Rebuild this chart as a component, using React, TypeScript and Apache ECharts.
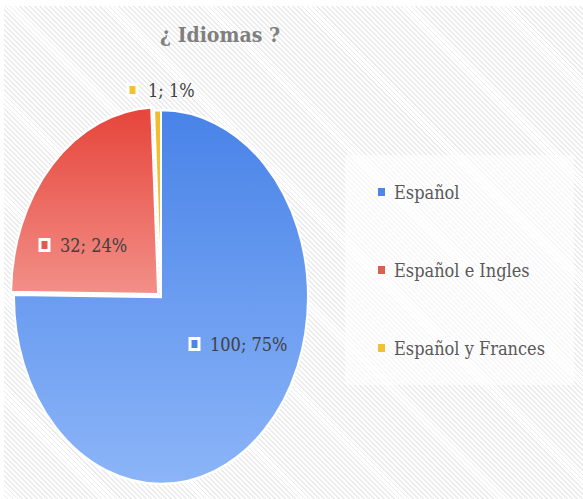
import React, { useEffect, useRef } from "react";
import * as echarts from "echarts";

const categories = ["Español", "Español e Ingles", "Español y Frances"];
const values = [100, 32, 1];
const titleText = "¿ Idiomas ?";

// styles (not data)
const FONT = "DejaVu Serif Condensed";
const gradients = [
  ["#4883e8", "#8cb5f8"],
  ["#e6443a", "#f29088"],
  ["#f1bc2b", "#f4c542"],
];
const legendColors = ["#4f86e6", "#e05b52", "#f2c037"];
const explode = [0, 4, 0];
const labelOffsets = [
  [28, 47],
  [-122, -52],
  [-34, -207],
];
const CX = 161;
const CY = 297;
const RX = 147;
const RY = 187;

export default function App() {
  const ref = useRef<HTMLDivElement>(null);
  useEffect(() => {
    document.body.style.margin = "0";
    const chart = echarts.init(ref.current!, null, { renderer: "svg" });
    const total = values.reduce((a, b) => a + b, 0);
    const starts: number[] = [];
    let acc = 0;
    values.forEach((v) => {
      starts.push(acc);
      acc += v;
    });
    const series = categories.map((name, i) => ({
      type: "custom",
      name,
      coordinateSystem: "none",
      itemStyle: { color: legendColors[i] },
      data: [values[i]],
      renderItem: (_params: any, api: any) => {
        const v = api.value(0) as number;
        const a0 = -Math.PI / 2 + (2 * Math.PI * starts[i]) / total;
        const a1 = a0 + (2 * Math.PI * v) / total;
        const mid = (a0 + a1) / 2;
        const dx = Math.cos(mid) * explode[i];
        const dy = Math.sin(mid) * explode[i];
        const pct = Math.round((v / total) * 100);
        const [ox, oy] = labelOffsets[i];
        return {
          type: "group",
          children: [
            {
              type: "sector",
              x: CX + dx,
              y: CY + dy,
              scaleY: RY / RX,
              shape: { cx: 0, cy: 0, r0: 0, r: RX, startAngle: a0, endAngle: a1, clockwise: true },
              style: {
                fill: new echarts.graphic.LinearGradient(0, 0, 0, 1, [
                  { offset: 0, color: gradients[i][0] },
                  { offset: 1, color: gradients[i][1] },
                ]),
                stroke: "#ffffff",
                lineWidth: 2,
                strokeNoScale: true,
              },
            },
            {
              type: "rect",
              x: CX + ox,
              y: CY + oy,
              shape: { x: 1, y: -5.5, width: 9, height: 11 },
              style: { fill: legendColors[i], stroke: "#ffffff", lineWidth: 3 },
              z2: 10,
            },
            {
              type: "text",
              x: CX + ox + 21,
              y: CY + oy,
              z2: 10,
              style: {
                text: `${v}; ${pct}%`,
                fontSize: 18,
                fontFamily: FONT,
                fill: "#404040",
                verticalAlign: "middle",
                align: "left",
              },
            },
          ],
        };
      },
    }));
    chart.setOption({
      animation: false,
      backgroundColor: "transparent",
      title: {
        text: titleText,
        left: 155,
        top: 19,
        textStyle: {
          fontSize: 21,
          fontWeight: "bold",
          fontFamily: FONT,
          color: "#7f7f7f",
        },
      },
      legend: {
        orient: "vertical",
        left: 345,
        top: 155,
        padding: [28, 29, 28, 33],
        itemGap: 60,
        itemWidth: 7,
        itemHeight: 8,
        icon: "rect",
        selectedMode: false,
        backgroundColor: "rgba(255,255,255,0.6)",
        textStyle: {
          fontSize: 18,
          fontFamily: FONT,
          color: "#595959",
          padding: [0, 0, 0, 4],
        },
        data: categories,
      },
      series,
    } as any);
    return () => chart.dispose();
  }, []);
  return (
    <div style={{ position: "relative", width: 583, height: 499, background: "#ffffff" }}>
      <div
        style={{
          position: "absolute",
          left: 4,
          top: 6,
          right: 0,
          bottom: 0,
          background:
            "repeating-linear-gradient(45deg, #ffffff 0px, #ffffff 2.2px, #ebebeb 2.2px, #ebebeb 3.5px)",
        }}
      />
      <div ref={ref} style={{ position: "absolute", left: 0, top: 0, width: 583, height: 499 }} />
    </div>
  );
}
